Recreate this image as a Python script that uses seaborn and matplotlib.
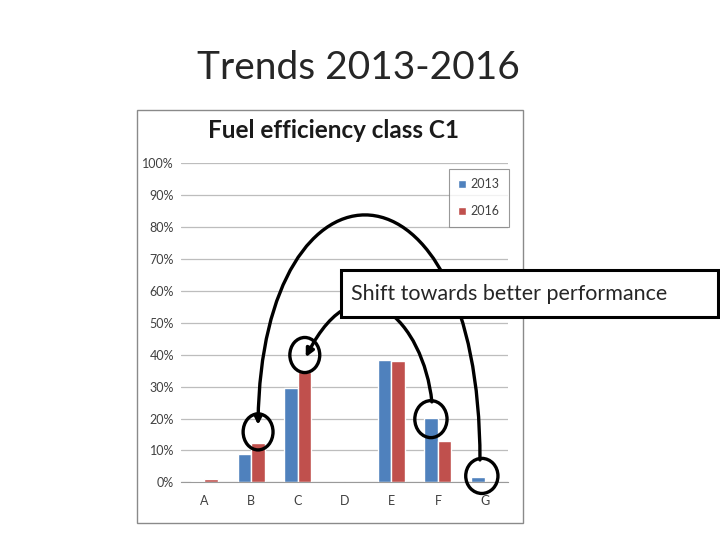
import pandas as pd
import seaborn as sns
import matplotlib.pyplot as plt
from matplotlib.patches import Rectangle, Ellipse, FancyArrowPatch
from matplotlib.path import Path

# Data (share of tyres per fuel efficiency class, %)
classes = ["A", "B", "C", "D", "E", "F", "G"]
share_2013 = [0.5, 8.8, 29.7, 0.0, 38.3, 20.3, 1.8]
share_2016 = [1.0, 12.4, 34.7, 0.0, 38.0, 13.0, 0.2]
years = ["2013", "2016"]
colors = ["#4F81BD", "#C0504D"]
yticks = list(range(0, 101, 10))
ytick_labels = [f"{v}%" for v in yticks]

df = pd.DataFrame({
    "Class": classes * 2,
    "Share": share_2013 + share_2016,
    "Year": [years[0]] * len(classes) + [years[1]] * len(classes),
})

sns.set_style("white")
plt.rcParams['font.family'] = ['Lato', 'DejaVu Sans']

fig = plt.figure(figsize=(7.2, 5.4), dpi=100)
fig.patch.set_facecolor("white")

# slide title
fig.text(0.498, 0.874, "Trends 2013-2016", ha="center", va="center", fontsize=28)

# pasted chart frame
fig.patches.append(Rectangle((137 / 720, 1 - 523 / 540), 386 / 720, 413 / 540,
                             transform=fig.transFigure, fill=False,
                             edgecolor="#8a8a8a", lw=1, zorder=1))
fig.text(333 / 720, 1 - 131 / 540, "Fuel efficiency class C1", ha="center", va="center",
         fontsize=17.5, fontweight="bold", color="#1a1a1a")

ax = fig.add_axes([181 / 720, 1 - 482.3 / 540, 327 / 720, 319 / 540])
sns.barplot(data=df, x="Class", y="Share", hue="Year", palette=colors,
            saturation=1, width=0.58, gap=0, ax=ax)

ax.set_xlim(-0.5, 6.5)
ax.set_ylim(0, 100)
ax.set_yticks(yticks)
ax.set_yticklabels(ytick_labels)
ax.set_xlabel("")
ax.set_ylabel("")
ax.yaxis.grid(True, color="#bdbdbd", lw=0.9)
ax.set_axisbelow(True)
for s in ["top", "right", "left"]:
    ax.spines[s].set_visible(False)
ax.spines["bottom"].set_color("#9a9a9a")
ax.tick_params(axis="y", length=0, labelsize=9, labelcolor="#404040", pad=5)
ax.tick_params(axis="x", length=0, labelsize=9, labelcolor="#404040", pad=9)
ax.set_xticks([i + 0.5 for i in range(-1, 7)], minor=True)
ax.tick_params(axis="x", which="minor", length=3, color="#b0b0b0", direction="out")

handles, labels = ax.get_legend_handles_labels()
leg = ax.legend(handles, labels, loc="upper right", bbox_to_anchor=(1.003, 0.982),
                frameon=True, fancybox=False, edgecolor="#808080", fontsize=9,
                handlelength=0.6, handleheight=0.6, handletextpad=0.4,
                labelspacing=1.2, borderpad=0.75, borderaxespad=0)
leg.get_frame().set_linewidth(0.8)
for t in leg.get_texts():
    t.set_color("#404040")

# arcs showing the shift (in category / percent units)
arc_outer = [(5.90, 7.0), (5.90, 107.3), (1.22, 107.3), (1.15, 18.0)]
arc_inner = [(4.87, 25.2), (4.70, 50.0), (3.30, 72.0), (2.17, 39.2)]
for pts in [arc_outer, arc_inner]:
    path = Path(pts, [Path.MOVETO, Path.CURVE4, Path.CURVE4, Path.CURVE4])
    arr = FancyArrowPatch(path=path, arrowstyle="-|>", mutation_scale=12,
                          lw=2.4, color="black", clip_on=False, zorder=6)
    ax.add_patch(arr)

circles = [((1.15, 15.8), 0.64, 11.3), ((2.15, 39.9), 0.64, 11.0),
           ((4.85, 19.8), 0.69, 11.6), ((5.94, 2.0), 0.69, 11.0)]
for c, w, h in circles:
    ax.add_patch(Ellipse(c, w, h, fill=False, edgecolor="black", lw=2.4,
                         clip_on=False, zorder=6))

# text box on top
fig.patches.append(Rectangle((341 / 720, 1 - 317 / 540), 377 / 720, 47 / 540,
                             transform=fig.transFigure, facecolor="white",
                             edgecolor="black", lw=2.2, zorder=5))
fig.text(351 / 720, 1 - 294.5 / 540, "Shift towards better performance",
         ha="left", va="center", fontsize=15.5, zorder=6)

fig.savefig("out.png", dpi=100)
